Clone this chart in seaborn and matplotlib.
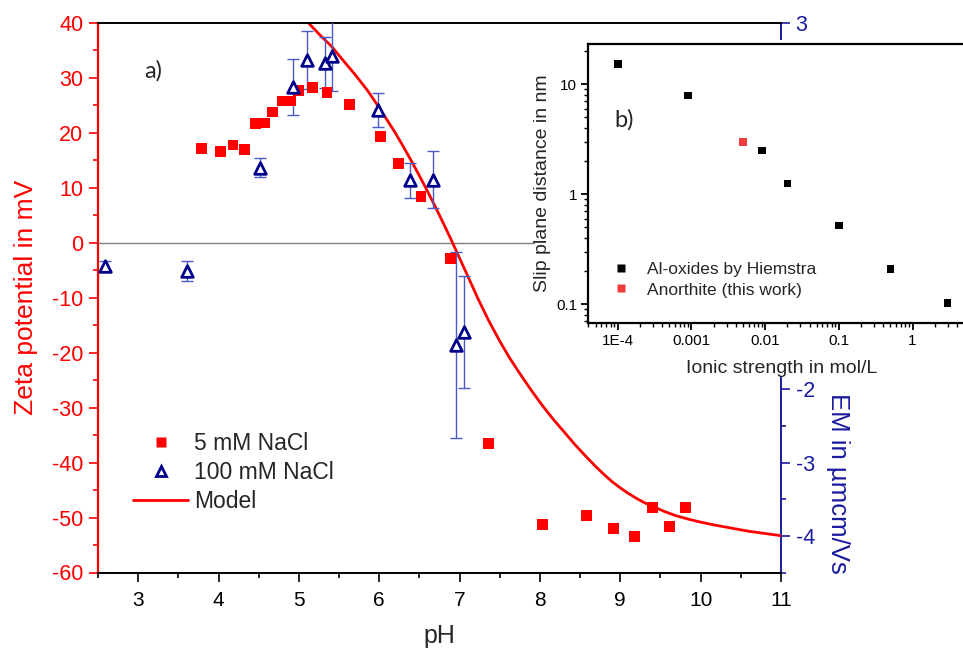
import matplotlib
matplotlib.use("Agg")
import numpy as np
import pandas as pd
import seaborn as sns
import matplotlib.pyplot as plt
from matplotlib.patches import Rectangle
from matplotlib.lines import Line2D
from matplotlib.ticker import MultipleLocator, FixedLocator, FixedFormatter, LogLocator, NullFormatter

# ---------------- data ----------------
ph_5mM = [3.79, 4.03, 4.18, 4.32, 4.46, 4.57, 4.67, 4.79, 4.90, 4.99, 5.17, 5.35, 5.63,
          6.02, 6.24, 6.52, 6.89, 7.36, 8.03, 8.58, 8.91, 9.18, 9.40, 9.61, 9.81]
zeta_5mM = [17.2, 16.6, 17.8, 16.9, 21.7, 21.8, 23.8, 25.8, 25.8, 27.8, 28.3, 27.3, 25.1,
            19.4, 14.5, 8.4, -2.9, -36.5, -51.3, -49.6, -52.0, -53.5, -48.1, -51.6, -48.2]

ph_100mM = [2.59, 3.61, 4.51, 4.93, 5.10, 5.32, 5.41, 5.99, 6.38, 6.67, 6.96, 7.05]
zeta_100mM = [-4.2, -5.1, 13.7, 28.4, 33.3, 32.8, 34.0, 24.2, 11.4, 11.5, -18.6, -16.2]
err_100mM = [0.9, 1.8, 1.8, 5.1, 5.3, 4.7, 6.3, 3.1, 3.2, 5.2, 17.0, 10.2]

ph_model = [5.12, 5.25, 5.41, 5.55, 5.70, 5.85, 5.99, 6.10, 6.20, 6.30, 6.40, 6.50, 6.60,
            6.70, 6.80, 6.90, 7.00, 7.10, 7.23, 7.36, 7.50, 7.62, 7.75, 7.90, 8.04, 8.17,
            8.30, 8.44, 8.58, 8.70, 8.80, 8.90, 9.00, 9.10, 9.20, 9.30, 9.41, 9.55, 9.70,
            9.85, 9.99, 10.15, 10.30, 10.45, 10.60, 10.80, 11.00]
zeta_model = [40.0, 38.0, 35.7, 33.2, 30.6, 27.8, 24.8, 22.3, 20.0, 17.5, 14.9, 12.2, 9.4,
              6.5, 3.5, 0.4, -2.8, -6.0, -10.2, -14.1, -17.9, -20.9, -23.8, -27.0, -29.8,
              -32.2, -34.4, -36.8, -39.0, -40.8, -42.2, -43.5, -44.6, -45.6, -46.5, -47.3,
              -48.0, -48.9, -49.7, -50.3, -50.8, -51.3, -51.7, -52.1, -52.5, -52.9, -53.3]

ionic_hiemstra = [1e-4, 9e-4, 0.009, 0.02, 0.1, 0.5, 3.0]
slip_hiemstra = [15.3, 7.9, 2.5, 1.25, 0.52, 0.21, 0.102]
ionic_anorthite = [0.005]
slip_anorthite = [3.0]

x_ticks = [3, 4, 5, 6, 7, 8, 9, 10, 11]
y_ticks = [-60, -50, -40, -30, -20, -10, 0, 10, 20, 30, 40]
em_ticks = [-4, -3, -2, -1, 0, 1, 2, 3]
inset_x_ticks = [1e-4, 1e-3, 1e-2, 1e-1, 1]
inset_x_labels = ["1E-4", "0.001", "0.01", "0.1", "1"]
inset_y_ticks = [0.1, 1, 10]
inset_y_labels = ["0.1", "1", "10"]

# ---------------- style ----------------
sns.set_style("ticks")
plt.rcParams["font.family"] = ["Liberation Sans", "DejaVu Sans"]
plt.rcParams["axes.unicode_minus"] = False

RED = "#ff0000"
NAVY = "#00008b"
BLUE = "#1a1aa0"
W, H = 963, 652

fig = plt.figure(figsize=(W / 100, H / 100), dpi=100)
L, R, T, B = 98, 781, 23, 572.5
ax = fig.add_axes([L / W, 1 - B / H, (R - L) / W, (B - T) / H])

ax.axhline(0, color="#808080", lw=1.0, zorder=1)
sns.lineplot(x=ph_model, y=zeta_model, color=RED, lw=2, ax=ax, sort=False, zorder=2,
             estimator=None)
ax.errorbar(ph_100mM, zeta_100mM, yerr=err_100mM, fmt="none", ecolor="#4a5bc8",
            elinewidth=1.0, capsize=4.5, capthick=1.0, zorder=3)
sns.scatterplot(x=ph_5mM, y=zeta_5mM, marker="s", color=RED, s=62, edgecolor="none",
                ax=ax, zorder=4)
sns.scatterplot(x=ph_100mM, y=zeta_100mM, marker="^", color="white", edgecolor=NAVY,
                linewidth=2, s=70, ax=ax, zorder=5)

ax.set_xlim(2.5, 11)
ax.set_ylim(-60, 40)
ax.set_xticks(x_ticks)
ax.set_yticks(y_ticks)
ax.xaxis.set_minor_locator(MultipleLocator(0.5))
ax.yaxis.set_minor_locator(MultipleLocator(5))
ax.tick_params(axis="x", which="major", direction="out", length=6.5, width=1.2,
               colors="black", labelsize=15, pad=7)
ax.tick_params(axis="x", which="minor", direction="out", length=3.5, width=1.2, colors="black")
ax.tick_params(axis="y", which="major", direction="out", length=6.5, width=1.2,
               colors=RED, labelsize=15.5, pad=4)
ax.tick_params(axis="y", which="minor", direction="out", length=3.5, width=1.2, colors=RED)
ax.spines["left"].set_color(RED)
ax.spines["left"].set_linewidth(1.6)
ax.spines["bottom"].set_color("black")
ax.spines["bottom"].set_linewidth(1.4)
ax.spines["top"].set_color("black")
ax.spines["top"].set_linewidth(1.4)
ax.spines["top"].set_visible(True)
ax.spines["right"].set_visible(False)
ax.set_xlabel("pH", fontsize=18, va="top")
ax.xaxis.set_label_coords(0.5, (572.5 - 624) / 549.5)
ax.set_ylabel("Zeta potential in mV", fontsize=19, color=RED)
ax.yaxis.set_label_coords((38 - 98) / 683, 0.5)

sec = ax.secondary_yaxis("right", functions=(lambda v: v * 0.075, lambda v: v / 0.075))
sec.set_yticks(em_ticks)
sec.yaxis.set_minor_locator(MultipleLocator(0.5))
sec.spines["right"].set_color(BLUE)
sec.spines["right"].set_linewidth(1.4)
sec.tick_params(axis="y", which="major", direction="out", length=6.5, width=1.2,
                colors=BLUE, labelsize=15.5, pad=4)
sec.tick_params(axis="y", which="minor", direction="out", length=3.5, width=1.2, colors=BLUE)
fig.text(838 / W, 1 - 483 / H, "EM in µmcm/Vs", rotation=270, fontsize=18.5, color=BLUE,
         ha="center", va="center")

ax.text(153 / W, 1 - 71 / H, "a)", transform=fig.transFigure, fontsize=17,
        family=["Lato", "DejaVu Sans"], ha="center", va="center")

handles = [
    Line2D([], [], marker="s", color=RED, ls="none", markersize=7.5, mec="none"),
    Line2D([], [], marker="^", mfc="white", mec=NAVY, mew=2, ls="none", markersize=7.5),
    Line2D([], [], color=RED, lw=2),
]
ax.legend(handles, ["5 mM NaCl", "100 mM NaCl", "Model"], loc="upper left",
          bbox_to_anchor=(133 / W, 1 - 432 / H), bbox_transform=fig.transFigure,
          frameon=False, fontsize=16.5, borderpad=0, borderaxespad=0,
          handlelength=2.4, handletextpad=0.27, labelspacing=0.27)

# white cover behind inset
fig.add_artist(Rectangle((535 / W, 1 - 376 / H), (W - 535) / W, (376 - 40) / H,
                         transform=fig.transFigure, facecolor="white", edgecolor="none",
                         zorder=1))

# ---------------- inset ----------------
IL, IR, IT, IB = 588.3, 975, 44, 323.3
ins = fig.add_axes([IL / W, 1 - IB / H, (IR - IL) / W, (IB - IT) / H], zorder=2)
ins.set_facecolor("white")
sns.scatterplot(x=ionic_hiemstra, y=slip_hiemstra, marker="s", color="black", s=30,
                edgecolor="none", ax=ins, zorder=3)
sns.scatterplot(x=ionic_anorthite, y=slip_anorthite, marker="s", color="#f03c3c", s=30,
                edgecolor="none", ax=ins, zorder=3)
ins.set_xscale("log")
ins.set_yscale("log")
ins.set_xlim(10 ** -4.40, 10 ** 0.848)
ins.set_ylim(0.067, 23.2)
ins.xaxis.set_major_locator(FixedLocator(inset_x_ticks))
ins.xaxis.set_major_formatter(FixedFormatter(inset_x_labels))
ins.xaxis.set_minor_locator(LogLocator(base=10, subs=np.arange(2, 10), numticks=20))
ins.xaxis.set_minor_formatter(NullFormatter())
ins.yaxis.set_major_locator(FixedLocator(inset_y_ticks))
ins.yaxis.set_major_formatter(FixedFormatter(inset_y_labels))
ins.yaxis.set_minor_locator(LogLocator(base=10, subs=np.arange(2, 10), numticks=20))
ins.yaxis.set_minor_formatter(NullFormatter())
ins.tick_params(which="major", direction="out", length=5, width=1.3, colors="black",
                labelsize=11, pad=3)
ins.tick_params(which="minor", direction="out", length=3, width=1.0, colors="black")
for s in ["left", "bottom", "top"]:
    ins.spines[s].set_color("black")
    ins.spines[s].set_linewidth(1.6)
    ins.spines[s].set_visible(True)
ins.spines["right"].set_visible(False)
ins.set_xlabel("Ionic strength in mol/L", fontsize=14, labelpad=8)
ins.set_ylabel("Slip plane distance in nm", fontsize=14, labelpad=4)
ins.text(624 / W, 1 - 120 / H, "b)", transform=fig.transFigure, fontsize=17,
         family=["Lato", "DejaVu Sans"], ha="center", va="center")
ih = [Line2D([], [], marker="s", color="black", ls="none", markersize=5.5, mec="none"),
      Line2D([], [], marker="s", color="#f03c3c", ls="none", markersize=5.5, mec="none")]
ins.legend(ih, ["Al-oxides by Hiemstra", "Anorthite (this work)"], loc="upper left",
           bbox_to_anchor=(611 / W, 1 - 262 / H), bbox_transform=fig.transFigure,
           frameon=False, fontsize=12.5, borderpad=0, borderaxespad=0,
           handlelength=1.2, handletextpad=0.9, labelspacing=0.3)

fig.savefig("out.png", dpi=100)
